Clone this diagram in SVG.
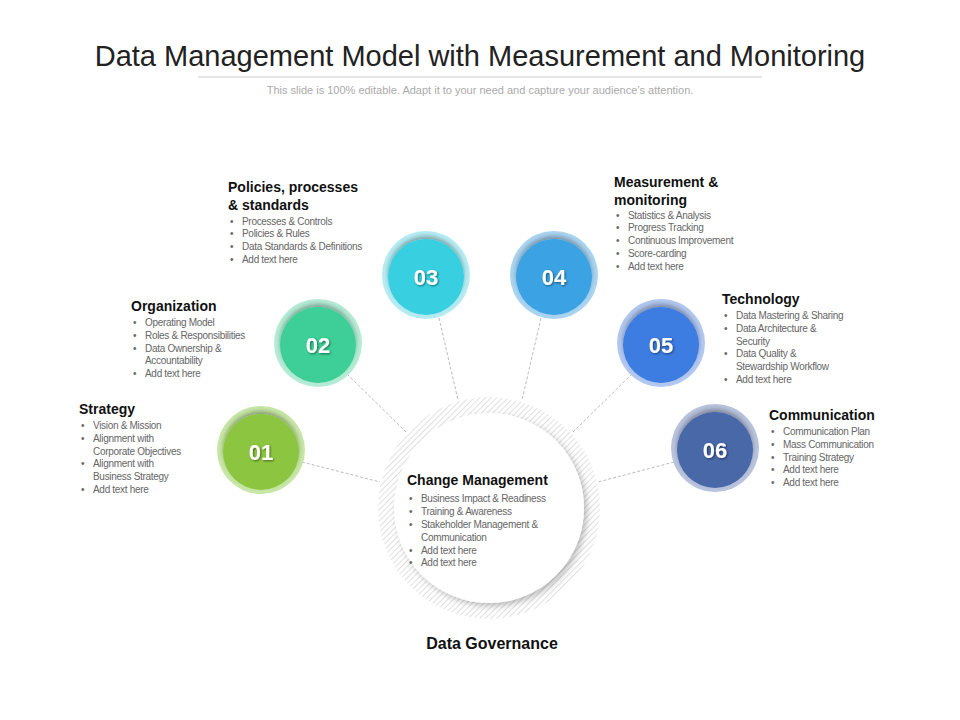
<svg xmlns="http://www.w3.org/2000/svg" width="960" height="720" viewBox="0 0 960 720">
<style>
.t{font-family:"Liberation Sans",Arial,sans-serif}
.h{font-family:"Liberation Sans",Arial,sans-serif;font-weight:bold;font-size:14px;fill:#111}
.b{font-family:"Liberation Sans",Arial,sans-serif;font-size:10px;fill:#666;letter-spacing:-0.3px}
.n{font-family:"Liberation Sans",Arial,sans-serif;font-weight:bold;font-size:22px;fill:#fff;text-anchor:middle}
.c{stroke:#bbb;stroke-width:1;stroke-dasharray:3,2;fill:none}
</style>
<defs>
<pattern id="hatch" width="4" height="4" patternUnits="userSpaceOnUse" patternTransform="rotate(45)">
<rect width="4" height="4" fill="#fff"/><line x1="0" y1="0" x2="0" y2="4" stroke="#ccc" stroke-width="1.2"/>
</pattern>
<filter id="sh" x="-30%" y="-30%" width="160%" height="160%"><feDropShadow dx="0" dy="-3" stdDeviation="2" flood-color="#000" flood-opacity="0.3"/></filter>
<filter id="ts"><feDropShadow dx="1" dy="1" stdDeviation="0.8" flood-color="#000" flood-opacity="0.5"/></filter>
<filter id="is"><feDropShadow dx="3" dy="3" stdDeviation="3" flood-color="#000" flood-opacity="0.25"/></filter>
</defs>
<rect width="960" height="720" fill="#fff"/>
<text class="t" x="480" y="66" text-anchor="middle" font-size="29" fill="#222">Data Management Model with Measurement and Monitoring</text>
<line x1="198" y1="77" x2="762" y2="77" stroke="#ccc"/>
<text class="t" x="480" y="94" text-anchor="middle" font-size="11" fill="#aaa">This slide is 100% editable. Adapt it to your need and capture your audience’s attention.</text>
<g id="connectors">
<line class="c" x1="302" y1="462" x2="380" y2="482"/>
<line class="c" x1="347" y1="374" x2="406" y2="432"/>
<line class="c" x1="439" y1="318" x2="458" y2="400"/>
<line class="c" x1="541" y1="318" x2="522" y2="400"/>
<line class="c" x1="632" y1="374" x2="573" y2="432"/>
<line class="c" x1="674" y1="462" x2="598" y2="482"/>
</g>
<g id="center">
<circle cx="489" cy="508" r="111" fill="url(#hatch)"/>
<circle cx="489" cy="508" r="95" fill="#fff" filter="url(#is)"/>
<text class="h" x="407" y="485">Change Management</text>
<g class="b"><text x="409" y="502">•</text><text x="421" y="502">Business Impact &amp; Readiness</text>
<text x="409" y="515">•</text><text x="421" y="515">Training &amp; Awareness</text>
<text x="409" y="528">•</text><text x="421" y="528">Stakeholder Management &amp;</text>
<text x="421" y="541">Communication</text>
<text x="409" y="554">•</text><text x="421" y="554">Add text here</text>
<text x="409" y="566">•</text><text x="421" y="566">Add text here</text></g>
<text class="t" x="492" y="649" text-anchor="middle" font-size="16" font-weight="bold" fill="#111">Data Governance</text>
</g>
<g id="n01"><circle cx="261" cy="450" r="44" fill="#c7e7a6"/><circle cx="261" cy="452" r="38" fill="#8cc63f" filter="url(#sh)"/><text class="n" x="261" y="460" filter="url(#ts)">01</text>
<text class="h" x="79" y="414">Strategy</text>
<g class="b"><text x="81" y="429">•</text><text x="93" y="429">Vision &amp; Mission</text><text x="81" y="442">•</text><text x="93" y="442">Alignment with</text><text x="93" y="455">Corporate Objectives</text><text x="81" y="467">•</text><text x="93" y="467">Alignment with</text><text x="93" y="480">Business Strategy</text><text x="81" y="493">•</text><text x="93" y="493">Add text here</text></g></g>
<g id="n02"><circle cx="318" cy="343" r="44" fill="#b5ecd6"/><circle cx="318" cy="345" r="38" fill="#3ecf97" filter="url(#sh)"/><text class="n" x="318" y="353" filter="url(#ts)">02</text>
<text class="h" x="131" y="311">Organization</text>
<g class="b"><text x="133" y="326">•</text><text x="145" y="326">Operating Model</text><text x="133" y="339">•</text><text x="145" y="339">Roles &amp; Responsibilities</text><text x="133" y="352">•</text><text x="145" y="352">Data Ownership &amp;</text><text x="145" y="364">Accountability</text><text x="133" y="377">•</text><text x="145" y="377">Add text here</text></g></g>
<g id="n03"><circle cx="426" cy="275" r="44" fill="#b5ecf3"/><circle cx="426" cy="277" r="38" fill="#38d0e0" filter="url(#sh)"/><text class="n" x="426" y="285" filter="url(#ts)">03</text>
<text class="h" x="228" y="192">Policies, processes</text><text class="h" x="228" y="210">&amp; standards</text>
<g class="b"><text x="230" y="225">•</text><text x="242" y="225">Processes &amp; Controls</text><text x="230" y="237">•</text><text x="242" y="237">Policies &amp; Rules</text><text x="230" y="250">•</text><text x="242" y="250">Data Standards &amp; Definitions</text><text x="230" y="263">•</text><text x="242" y="263">Add text here</text></g></g>
<g id="n04"><circle cx="554" cy="275" r="44" fill="#a9d4f1"/><circle cx="554" cy="277" r="38" fill="#3aa3e3" filter="url(#sh)"/><text class="n" x="554" y="285" filter="url(#ts)">04</text>
<text class="h" x="614" y="187">Measurement &amp;</text><text class="h" x="614" y="205">monitoring</text>
<g class="b"><text x="616" y="219">•</text><text x="628" y="219">Statistics &amp; Analysis</text><text x="616" y="231">•</text><text x="628" y="231">Progress Tracking</text><text x="616" y="244">•</text><text x="628" y="244">Continuous Improvement</text><text x="616" y="257">•</text><text x="628" y="257">Score-carding</text><text x="616" y="270">•</text><text x="628" y="270">Add text here</text></g></g>
<g id="n05"><circle cx="661" cy="343" r="44" fill="#b2c8f0"/><circle cx="661" cy="345" r="38" fill="#3d7ce0" filter="url(#sh)"/><text class="n" x="661" y="353" filter="url(#ts)">05</text>
<text class="h" x="722" y="304">Technology</text>
<g class="b"><text x="724" y="319">•</text><text x="736" y="319">Data Mastering &amp; Sharing</text><text x="724" y="332">•</text><text x="736" y="332">Data Architecture &amp;</text><text x="736" y="345">Security</text><text x="724" y="357">•</text><text x="736" y="357">Data Quality &amp;</text><text x="736" y="370">Stewardship Workflow</text><text x="724" y="383">•</text><text x="736" y="383">Add text here</text></g></g>
<g id="n06"><circle cx="715" cy="448" r="44" fill="#b8c3dd"/><circle cx="715" cy="450" r="38" fill="#4a67a8" filter="url(#sh)"/><text class="n" x="715" y="458" filter="url(#ts)">06</text>
<text class="h" x="769" y="420">Communication</text>
<g class="b"><text x="771" y="435">•</text><text x="783" y="435">Communication Plan</text><text x="771" y="448">•</text><text x="783" y="448">Mass Communication</text><text x="771" y="461">•</text><text x="783" y="461">Training Strategy</text><text x="771" y="473">•</text><text x="783" y="473">Add text here</text><text x="771" y="486">•</text><text x="783" y="486">Add text here</text></g></g>
</svg>
